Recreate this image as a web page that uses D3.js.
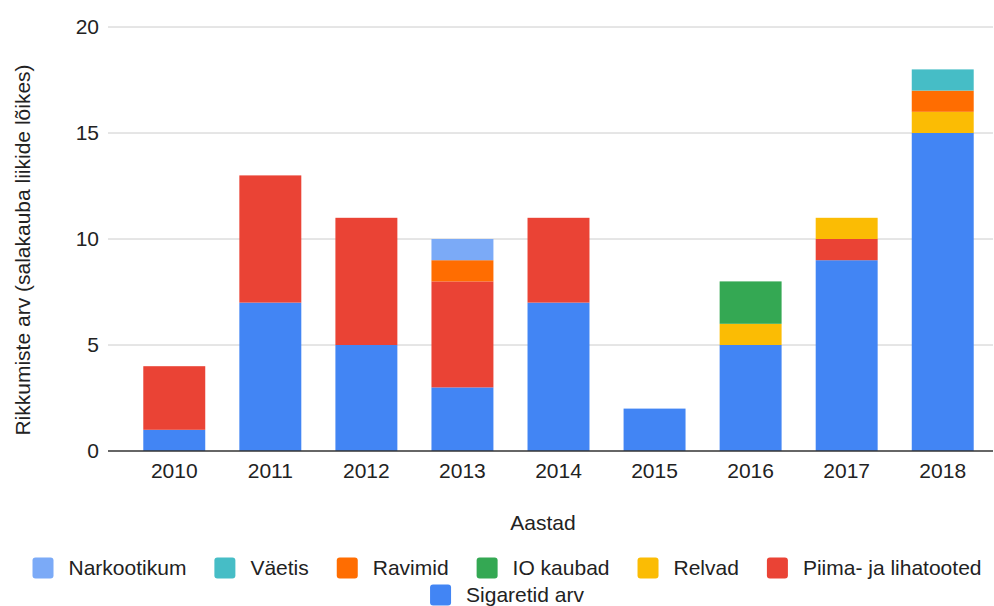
<!DOCTYPE html>
<html>
<head>
<meta charset="utf-8">
<script src="https://cdn.jsdelivr.net/npm/d3@7"></script>
<style>
  body { margin: 0; background: #fff; }
  text { font-family: "Liberation Sans", Arial, sans-serif; fill: #222; font-size: 21px; }
</style>
</head>
<body>
<div id="chart"></div>
<script>
// data
var years = ['2010', '2011', '2012', '2013', '2014', '2015', '2016', '2017', '2018'];
var sigaretid   = [1, 7, 5, 3, 7, 2, 5, 9, 15];
var piima       = [3, 6, 6, 5, 4, 0, 0, 1, 0];
var relvad      = [0, 0, 0, 0, 0, 0, 1, 1, 1];
var ioKaubad    = [0, 0, 0, 0, 0, 0, 2, 0, 0];
var ravimid     = [0, 0, 0, 1, 0, 0, 0, 0, 1];
var vaetis      = [0, 0, 0, 0, 0, 0, 0, 0, 1];
var narkootikum = [0, 0, 0, 1, 0, 0, 0, 0, 0];
var yTicks = [0, 5, 10, 15, 20];

// stacking order bottom -> top
var series = [
  { name: 'Sigaretid arv', values: sigaretid, color: '#4285F4' },
  { name: 'Piima- ja lihatooted', values: piima, color: '#EA4335' },
  { name: 'Relvad', values: relvad, color: '#FBBC04' },
  { name: 'IO kaubad', values: ioKaubad, color: '#34A853' },
  { name: 'Ravimid', values: ravimid, color: '#FF6D01' },
  { name: 'Väetis', values: vaetis, color: '#46BDC6' },
  { name: 'Narkootikum', values: narkootikum, color: '#7BAAF7' }
];

var width = 994, height = 606;
var svg = d3.select('#chart').append('svg')
    .attr('width', width)
    .attr('height', height);

var rows = years.map(function(y, i) {
  var r = { year: y };
  series.forEach(function(s) { r[s.name] = s.values[i]; });
  return r;
});
var stacked = d3.stack().keys(series.map(function(s) { return s.name; }))(rows);

var x = d3.scaleBand().domain(years).range([126, 991]).paddingInner(0.355).paddingOuter(0.18);
var y = d3.scaleLinear().domain([0, 20]).range([451, 27]);

// gridlines
svg.append('g').selectAll('line')
    .data(yTicks.filter(function(d) { return d > 0; }))
    .enter().append('line')
      .attr('x1', 108).attr('x2', 993)
      .attr('y1', function(d) { return y(d); })
      .attr('y2', function(d) { return y(d); })
      .attr('stroke', '#ccc').attr('stroke-width', 1);

// y tick labels
svg.append('g').selectAll('text')
    .data(yTicks)
    .enter().append('text')
      .attr('x', 99)
      .attr('y', function(d) { return y(d); })
      .attr('dy', '0.35em')
      .attr('text-anchor', 'end')
      .text(function(d) { return d; });

// bars
var layers = svg.append('g').selectAll('g')
    .data(stacked)
    .enter().append('g')
      .attr('fill', function(d, i) { return series[i].color; });

layers.selectAll('rect')
    .data(function(d) { return d.filter(function(p) { return p[1] - p[0] > 0; }); })
    .enter().append('rect')
      .attr('x', function(d) { return x(d.data.year); })
      .attr('width', x.bandwidth())
      .attr('y', function(d) { return y(d[1]); })
      .attr('height', function(d) { return y(d[0]) - y(d[1]); });

// baseline
svg.append('line')
    .attr('x1', 108).attr('x2', 993)
    .attr('y1', y(0)).attr('y2', y(0))
    .attr('stroke', '#333').attr('stroke-width', 1.5);

// x labels
svg.append('g').selectAll('text')
    .data(years)
    .enter().append('text')
      .attr('x', function(d) { return x(d) + x.bandwidth() / 2; })
      .attr('y', 478)
      .attr('text-anchor', 'middle')
      .text(function(d) { return d; });

// axis titles
svg.append('text')
    .attr('x', 543).attr('y', 530)
    .attr('text-anchor', 'middle')
    .text('Aastad');

svg.append('text')
    .attr('transform', 'translate(30,250) rotate(-90)')
    .attr('text-anchor', 'middle')
    .text('Rikkumiste arv (salakauba liikide lõikes)');

// legend
var legendItems = series.slice().reverse();
var legendRows = [legendItems.slice(0, 6), legendItems.slice(6)];
var swW = 21, swGap = 15, itemGap = 28;
legendRows.forEach(function(rowItems, ri) {
  var g = svg.append('g');
  var cy = 568 + ri * 27;
  var cx = 0;
  rowItems.forEach(function(s) {
    g.append('rect')
        .attr('x', cx).attr('y', cy - 10.5)
        .attr('width', swW).attr('height', 21)
        .attr('rx', 3)
        .attr('fill', s.color);
    var t = g.append('text')
        .attr('x', cx + swW + swGap)
        .attr('y', cy)
        .attr('dy', '0.35em')
        .text(s.name);
    cx += swW + swGap + t.node().getComputedTextLength() + itemGap;
  });
  var total = cx - itemGap;
  g.attr('transform', 'translate(' + (507 - total / 2) + ',0)');
});
</script>
</body>
</html>
